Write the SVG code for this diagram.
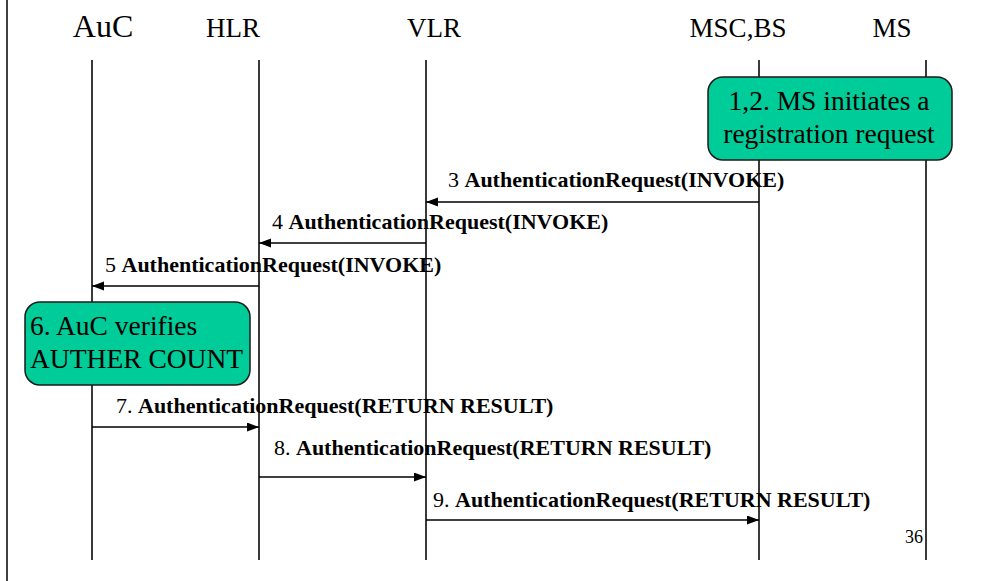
<svg xmlns="http://www.w3.org/2000/svg" width="1002" height="581" viewBox="0 0 1002 581">
  <style>
    .head { font-family: "Liberation Serif", "Times New Roman", serif; font-size: 27px; fill: #000; text-anchor: middle; }
    .life { stroke: #3a3a3a; stroke-width: 2; fill: none; }
    .msg { stroke: #000; stroke-width: 1.5; fill: none; marker-end: url(#arrow); }
    .lbl { font-family: "Liberation Serif", "Times New Roman", serif; font-size: 22px; fill: #000; }
    .lbl tspan.b { font-weight: bold; }
    .note rect { fill: #00CC99; stroke: #1a1a1a; stroke-width: 1.5; }
    .note text { font-family: "Liberation Serif", "Times New Roman", serif; font-size: 27.5px; fill: #000; }
    .page { font-family: "Liberation Serif", "Times New Roman", serif; font-size: 18px; fill: #000; }
  </style>
  <defs>
    <marker id="arrow" markerUnits="userSpaceOnUse" markerWidth="13" markerHeight="10" refX="12" refY="4.5" orient="auto">
      <path d="M0,0 L12,4.5 L0,9 z" fill="#000"/>
    </marker>
  </defs>

  <rect x="0" y="0" width="1002" height="581" fill="#fff"/>
  <!-- slide edge -->
  <line x1="7" y1="0" x2="7" y2="581" stroke="#000" stroke-width="1.5"/>

  <!-- participants with lifelines -->
  <g id="auc">
    <text class="head" x="103" y="37" style="font-size:32px">AuC</text>
    <line class="life" x1="92" y1="60" x2="92" y2="560"/>
  </g>
  <g id="hlr">
    <text class="head" x="233" y="37">HLR</text>
    <line class="life" x1="259" y1="60" x2="259" y2="560"/>
  </g>
  <g id="vlr">
    <text class="head" x="434" y="37">VLR</text>
    <line class="life" x1="426" y1="60" x2="426" y2="560"/>
  </g>
  <g id="msc-bs">
    <text class="head" x="738" y="37">MSC,BS</text>
    <line class="life" x1="759" y1="60" x2="759" y2="560"/>
  </g>
  <g id="ms">
    <text class="head" x="892" y="37">MS</text>
    <line class="life" x1="926" y1="60" x2="926" y2="560"/>
  </g>

  <!-- step notes -->
  <g id="note-registration" class="note">
    <rect x="708" y="77" width="244" height="83" rx="15" ry="15"/>
    <text x="829" y="110" text-anchor="middle">1,2. MS initiates a</text>
    <text x="829" y="143" text-anchor="middle">registration request</text>
  </g>
  <g id="note-auther-count" class="note">
    <rect x="25" y="302" width="225" height="83" rx="15" ry="15"/>
    <text x="30" y="335">6. AuC verifies</text>
    <text x="30" y="368">AUTHER COUNT</text>
  </g>

  <!-- messages -->
  <g id="connectors">
    <line class="msg" x1="759" y1="202" x2="426" y2="202"/>
    <text class="lbl" x="448" y="187">3 <tspan class="b">AuthenticationRequest(INVOKE)</tspan></text>

    <line class="msg" x1="426" y1="243" x2="259" y2="243"/>
    <text class="lbl" x="272" y="229">4 <tspan class="b">AuthenticationRequest(INVOKE)</tspan></text>

    <line class="msg" x1="259" y1="286" x2="92" y2="286"/>
    <text class="lbl" x="105" y="272">5 <tspan class="b">AuthenticationRequest(INVOKE)</tspan></text>

    <line class="msg" x1="92" y1="427" x2="259" y2="427"/>
    <text class="lbl" x="116" y="413">7. <tspan class="b">AuthenticationRequest(RETURN RESULT)</tspan></text>

    <line class="msg" x1="259" y1="477" x2="426" y2="477"/>
    <text class="lbl" x="274" y="455">8. <tspan class="b">AuthenticationRequest(RETURN RESULT)</tspan></text>

    <line class="msg" x1="426" y1="520" x2="759" y2="520"/>
    <text class="lbl" x="433" y="507">9. <tspan class="b">AuthenticationRequest(RETURN RESULT)</tspan></text>
  </g>

  <text class="page" x="905" y="543">36</text>
</svg>
